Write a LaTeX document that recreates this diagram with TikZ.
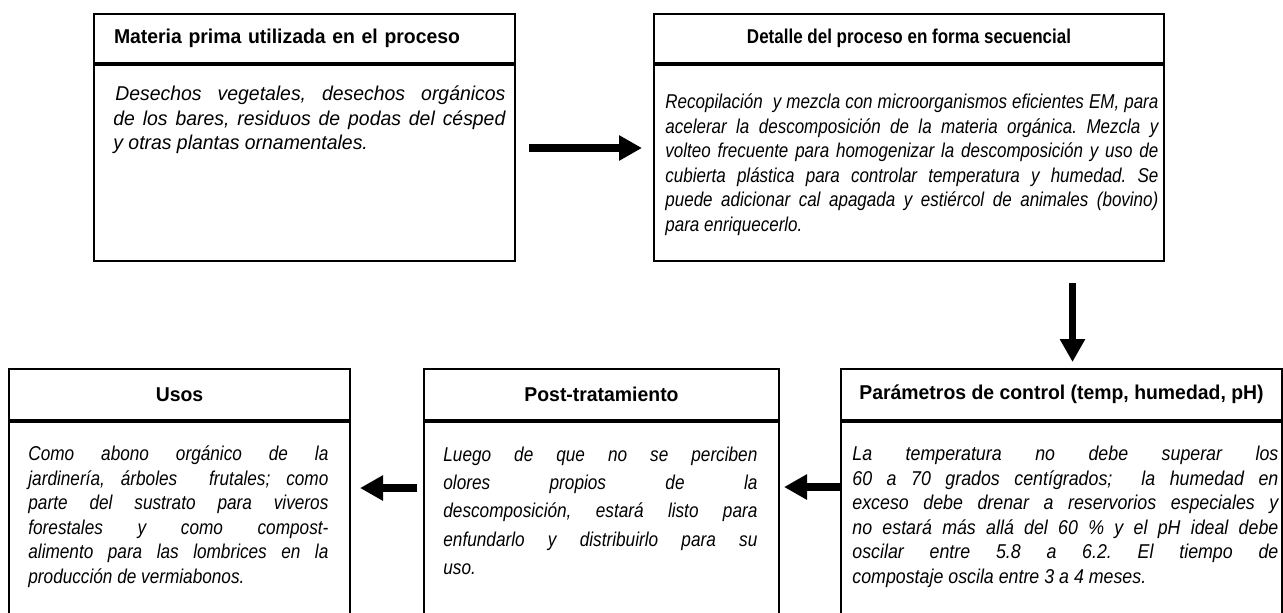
\documentclass[tikz,border=0pt]{standalone}
\usepackage{fontspec}
\setmainfont[FakeStretch=0.85]{Liberation Sans}
\newfontfamily\wideface[FakeStretch=0.97]{Liberation Sans}
\newfontfamily\usoface[FakeStretch=0.86]{Liberation Sans}
\newfontfamily\parface[FakeStretch=0.89]{Liberation Sans}
\usetikzlibrary{positioning,calc,arrows.meta}
\frenchspacing

\begin{document}
\begin{tikzpicture}[x=0.5pt,y=-0.5pt,
    head/.style={draw,line width=1pt,inner sep=0pt,minimum height=24.5pt,font=\fontsize{10}{12.25}\selectfont\bfseries},
    body/.style={draw,line width=1pt,inner sep=0pt},
    txt/.style={anchor=north west,inner sep=0pt,align=justify,font=\fontsize{10}{12.25}\selectfont\itshape},
    bigarrow/.style={line width=3.8pt,-{Triangle[length=11.5pt,width=12pt]}}]
    \useasboundingbox (0,0) rectangle (1283,612);

    % upper boxes
    \node[head,anchor=north west,minimum width=210.5pt,text width=190.5pt,align=left] (matHead) at (93,13) {\wideface\bfseries Materia prima utilizada en el proceso};
    \node[body,below=0pt of matHead,minimum width=210.5pt,minimum height=98pt] (matBody) {};
    \node[txt,text width=196pt] (matText) at (113,83) {\wideface\itshape\strut\hspace{1pt}Desechos vegetales, desechos orgánicos\linebreak de los bares, residuos de podas del césped\linebreak y otras plantas ornamentales.};

    \node[head,anchor=north west,minimum width=255pt] (detHead) at (653,13) {Detalle del proceso en forma secuencial};
    \node[body,below=0pt of detHead,minimum width=255pt,minimum height=98pt] (detBody) {};
    \node[txt,text width=246.5pt] (detText) at (665,91) {\strut Recopilación\ \ y mezcla con microorganismos eficientes EM, para\linebreak acelerar la descomposición de la materia orgánica. Mezcla y\linebreak volteo frecuente para homogenizar la descomposición y uso de\linebreak cubierta plástica para controlar temperatura y humedad. Se\linebreak puede adicionar cal apagada y estiércol de animales (bovino)\linebreak para enriquecerlo.};

    % lower boxes
    \node[head,anchor=north west,minimum width=170.5pt,minimum height=25.5pt] (usoHead) at (8,368) {\wideface\bfseries Usos};
    \node[body,below=0pt of usoHead,minimum width=170.5pt,minimum height=115pt] (usoBody) {};
    \node[txt,text width=150pt] (usoText) at (28,443) {\usoface\itshape\strut Como abono orgánico de la\linebreak jardinería, árboles\ \ frutales; como\linebreak parte del sustrato para viveros\linebreak forestales y como compost-\linebreak alimento para las lombrices en la\linebreak producción de vermiabonos.};

    \node[head,anchor=north west,minimum width=177.5pt,minimum height=25.5pt] (postHead) at (423,368) {\wideface\bfseries Post-tratamiento};
    \node[body,below=0pt of postHead,minimum width=177.5pt,minimum height=115pt] (postBody) {};
    \node[txt,text width=157pt,font=\fontsize{10}{14.15}\selectfont\itshape] (postText) at (443,441) {\usoface\itshape\strut Luego de que no se perciben\linebreak olores propios de la\linebreak descomposición, estará listo para\linebreak enfundarlo y distribuirlo para su\linebreak uso.};

    \node[head,anchor=north west,minimum width=220.5pt,minimum height=25.5pt] (parHead) at (840,368) {\wideface\bfseries Parámetros de control (temp, humedad, pH)};
    \node[body,below=0pt of parHead,minimum width=220.5pt,minimum height=115pt] (parBody) {};
    \node[txt,text width=213pt] (parText) at (852,443) {\parface\itshape\strut La temperatura no debe superar los\linebreak 60 a 70 grados centígrados;\ \ la humedad en\linebreak exceso debe drenar a reservorios especiales y\linebreak no estará más allá del 60 \% y el pH ideal debe\linebreak oscilar entre 5.8 a 6.2. El tiempo de\linebreak compostaje oscila entre 3 a 4 meses.};

    % arrows between boxes
    \draw[bigarrow,shorten <=6.5pt,shorten >=5.5pt] ([yshift=7.5pt]matBody.east) -- ([yshift=7.5pt]detBody.west);
    \draw[bigarrow] ($(parHead.north |- detBody.south)+(5.5pt,-10.5pt)$) -- ($(parHead.north)+(5.5pt,3pt)$);
    \draw[bigarrow] ($(parBody.north west)+(0,-33pt)$) -- ($(postBody.north east)+(2pt,-33pt)$);
    \draw[bigarrow] ($(postBody.north west)+(-3pt,-33.5pt)$) -- ($(usoBody.north east)+(4.5pt,-33.5pt)$);
\end{tikzpicture}
\end{document}
